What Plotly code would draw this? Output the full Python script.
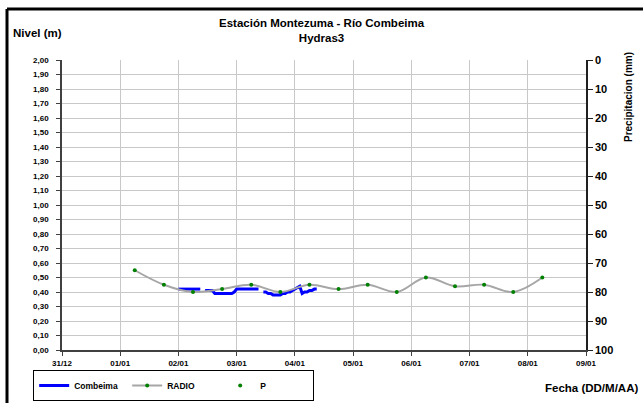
import plotly.graph_objects as go
import pandas as pd

# RADIO series (12-hourly), level in m
radio_times = pd.date_range("2011-01-01 06:00", periods=15, freq="12h").strftime("%Y-%m-%d %H:%M").tolist()
radio_values = [0.55, 0.45, 0.40, 0.42, 0.45, 0.40, 0.45, 0.42, 0.45, 0.40, 0.50, 0.44, 0.45, 0.40, 0.50]

# Combeima series (hourly), level in m
combeima_times = pd.date_range("2011-01-02 00:00", periods=58, freq="1h").strftime("%Y-%m-%d %H:%M").tolist()
combeima_values = ([0.42] * 10 + [None] + [0.41] * 4 + [0.39] * 8 + [0.40] + [0.42] * 10 + [None]
                   + [0.40, 0.40, 0.39, 0.39, 0.38, 0.38, 0.38, 0.38, 0.39, 0.39, 0.40, 0.40,
                      0.41, 0.42, 0.43, 0.44, 0.39, 0.40, 0.40, 0.41, 0.41, 0.42, 0.42])

# Precipitation P (mm) - no values recorded in the period
p_times = ["2011-01-01 06:00"]
p_values = [None]

tick_dates = pd.date_range("2010-12-31", "2011-01-09", freq="D").strftime("%Y-%m-%d").tolist()
tick_labels = ["31/12", "01/01", "02/01", "03/01", "04/01", "05/01", "06/01", "07/01", "08/01", "09/01"]

FONT = "Liberation Sans, Arial, sans-serif"

fig = go.Figure()
fig.add_trace(go.Scatter(x=combeima_times, y=combeima_values, name="Combeima", mode="lines",
                         line=dict(color="#0000FF", width=3), connectgaps=False))
fig.add_trace(go.Scatter(x=radio_times, y=radio_values, name="RADIO", mode="lines+markers",
                         line=dict(color="#A6A6A6", width=2, shape="spline", smoothing=1),
                         marker=dict(color="#008000", size=4)))
fig.add_trace(go.Scatter(x=p_times, y=p_values, name="P", mode="markers", yaxis="y2",
                         marker=dict(color="#008000", size=4)))

fig.update_layout(
    width=643, height=403,
    margin=dict(l=62, r=57, t=60, b=53, autoexpand=False),
    paper_bgcolor="white", plot_bgcolor="white",
    separators=",.",
    font=dict(family=FONT, size=8, color="black"),
    showlegend=True,
    legend=dict(orientation="h", x=-0.055, y=-0.069, xanchor="left", yanchor="top",
                bordercolor="black", borderwidth=1, bgcolor="white",
                font=dict(family=FONT, size=8.5, color="black", weight="bold"),
                itemwidth=30, tracegroupgap=0, entrywidth=48, entrywidthmode="pixels"),
    xaxis=dict(type="date", range=["2010-12-31", "2011-01-09"],
               tickvals=tick_dates, ticktext=tick_labels,
               showgrid=True, gridcolor="#C8C8C8", gridwidth=1,
               showline=True, linecolor="#404040", linewidth=1.5,
               ticks="outside", ticklen=4, tickcolor="#404040", ticklabelstandoff=1,
               tickfont=dict(family=FONT, size=8, color="black", weight="bold"),
               zeroline=False),
    yaxis=dict(range=[0, 2], dtick=0.1, tick0=0, tickformat=".2f",
               showgrid=True, gridcolor="#C8C8C8", gridwidth=1,
               showline=True, linecolor="#404040", linewidth=1.5,
               ticks="outside", ticklen=4, tickcolor="#404040", ticklabelstandoff=6,
               tickfont=dict(family=FONT, size=8, color="black", weight="bold"),
               zeroline=False),
    yaxis2=dict(overlaying="y", side="right", range=[100, 0], dtick=10, tick0=0,
                showgrid=False, showline=True, linecolor="#202020", linewidth=1.5,
                ticks="outside", ticklen=5, tickcolor="#202020",
                tickfont=dict(family=FONT, size=11, color="black", weight="bold"),
                zeroline=False),
)

annotations = [
    dict(text="<b>Estación Montezuma - Río Combeima</b><br><b>Hydras3</b>", x=322, y=31, size=11.5),
    dict(text="<b>Nivel (m)</b>", x=11, y=33, size=11.5, xanchor="left"),
    dict(text="<b>Precipitacion (mm)</b>", x=628, y=97, textangle=-90, size=10),
    dict(text="<b>Fecha (DD/M/AA)</b>", x=640, y=388, xanchor="right", size=11.5),
]
for a in annotations:
    a.setdefault("xanchor", "center")
    fig.add_annotation(xref="paper", yref="paper", showarrow=False,
                       x=(a.pop("x") - 62) / 524, y=(350 - a.pop("y")) / 290,
                       yanchor="middle", font=dict(family=FONT, size=a.pop("size"), color="black"), **a)

# outer frame (top and left edges)
fig.add_shape(type="line", xref="paper", yref="paper", x0=(7 - 62) / 524, x1=(643 - 62) / 524,
              y0=(350 - 9) / 290, y1=(350 - 9) / 290, line=dict(color="black", width=3))
fig.add_shape(type="line", xref="paper", yref="paper", x0=(7 - 62) / 524, x1=(7 - 62) / 524,
              y0=(350 - 9) / 290, y1=(350 - 403) / 290, line=dict(color="black", width=3))

fig.write_html("out.html", config={"displayModeBar": False},
               post_script="document.body.style.margin='0';document.body.style.overflow='hidden';")
